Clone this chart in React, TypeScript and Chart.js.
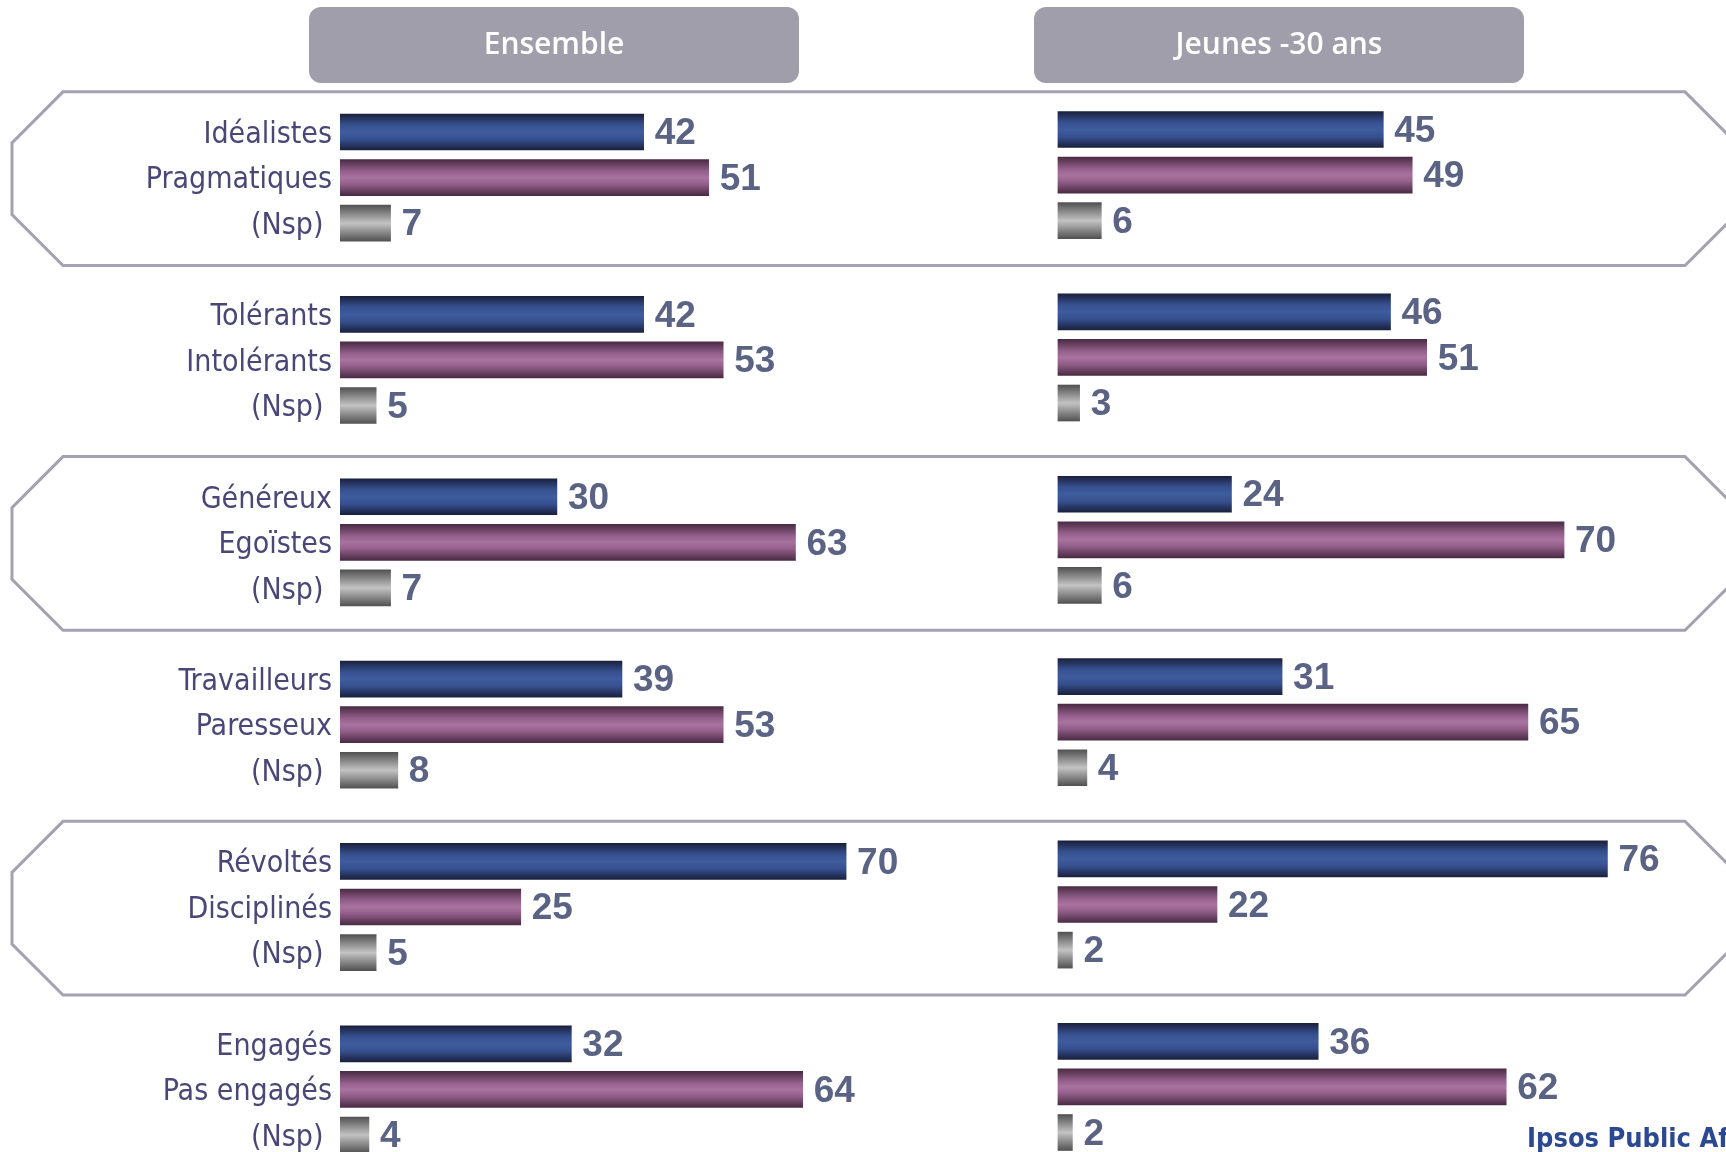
import React, { useEffect, useRef } from "react";
import { Chart, registerables } from "chart.js";
Chart.register(...registerables);

// ---------- data ----------
const panels = ["Ensemble", "Jeunes -30 ans"];
const categories = [
  "Idéalistes", "Pragmatiques", "(Nsp) ",
  "Tolérants", "Intolérants", "(Nsp) ",
  "Généreux", "Egoïstes", "(Nsp) ",
  "Travailleurs", "Paresseux", "(Nsp) ",
  "Révoltés", "Disciplinés", "(Nsp) ",
  "Engagés", "Pas engagés", "(Nsp) ",
];
const ensemble = [42, 51, 7, 42, 53, 5, 30, 63, 7, 39, 53, 8, 70, 25, 5, 32, 64, 4];
const jeunes = [45, 49, 6, 46, 51, 3, 24, 70, 6, 31, 65, 4, 76, 22, 2, 36, 62, 2];
const framedGroups = [0, 2, 4];
const source = "Ipsos Public Affairs";

// ---------- layout helpers ----------
const W = 1726;
const H = 1152;
const FAMILY = "'DejaVu Sans Condensed', 'DejaVu Sans', sans-serif";
const HEAD_FAMILY = "'Open Sans', 'DejaVu Sans', sans-serif";
const NUM_FAMILY = "'Liberation Sans', Arial, sans-serif";
const yPos = categories.map((_, i) => Math.floor(i / 3) * 4 + (i % 3));
const tickLabel = new Map(yPos.map((p, i) => [p, categories[i]]));

const Y_MIN = -2.895;
const Y_MAX = 22.373;
const Y_SHIFT_R = 0.055;

const gradStops = [
  [[0, "#1a213e"], [0.3, "#36508f"], [0.5, "#3f5c9d"], [0.7, "#36508f"], [1, "#1a213e"]],
  [[0, "#4a2b44"], [0.32, "#935f8a"], [0.5, "#a9739f"], [0.68, "#935f8a"], [1, "#4a2b44"]],
  [[0, "#525252"], [0.5, "#c3c3c3"], [1, "#525252"]],
];
const solid = ["#3f5c9d", "#a9739f", "#c3c3c3"];

function gradient(axisId: string) {
  return (c: any) => {
    const idx = typeof c.dataIndex === "number" ? c.dataIndex % 3 : 0;
    const chart = c.chart;
    const scale = chart.scales && chart.scales[axisId];
    if (!scale || !c.raw || typeof c.raw.y !== "number") return solid[idx];
    const py = scale.getPixelForValue(c.raw.y);
    if (!isFinite(py)) return solid[idx];
    const g = chart.ctx.createLinearGradient(0, py - 18, 0, py + 18);
    for (const [o, col] of gradStops[idx]) g.addColorStop(o as number, col as string);
    return g;
  };
}

const decor = {
  id: "decor",
  beforeDraw(chart: any) {
    const ctx = chart.ctx;
    const y = chart.scales.yL;
    ctx.save();
    ctx.fillStyle = "#ffffff";
    ctx.fillRect(0, 0, chart.width, chart.height);
    ctx.strokeStyle = "#a4a2b2";
    ctx.lineWidth = 3;
    ctx.lineJoin = "miter";
    for (const g of framedGroups) {
      const top = y.getPixelForValue(g * 4 - 0.88);
      const bot = y.getPixelForValue(g * 4 + 2.93);
      const L = 12, R = 1736, c = 51;
      ctx.beginPath();
      ctx.moveTo(L + c, top);
      ctx.lineTo(R - c, top);
      ctx.lineTo(R, top + c);
      ctx.lineTo(R, bot - c);
      ctx.lineTo(R - c, bot);
      ctx.lineTo(L + c, bot);
      ctx.lineTo(L, bot - c);
      ctx.lineTo(L, top + c);
      ctx.closePath();
      ctx.stroke();
    }
    const boxes = [309, 1034];
    ctx.fillStyle = "#a19eab";
    boxes.forEach((bx) => {
      ctx.beginPath();
      (ctx as any).roundRect(bx, 7, 490, 76, 12);
      ctx.fill();
    });
    ctx.fillStyle = "#ffffff";
    ctx.font = `600 30px ${HEAD_FAMILY}`;
    ctx.textAlign = "center";
    ctx.textBaseline = "middle";
    boxes.forEach((bx, i) => ctx.fillText(panels[i], bx + 245, 45));
    ctx.restore();
  },
  afterDatasetsDraw(chart: any) {
    const ctx = chart.ctx;
    ctx.save();
    ctx.font = `bold 37px ${NUM_FAMILY}`;
    ctx.fillStyle = "#5a6384";
    ctx.textAlign = "left";
    ctx.textBaseline = "middle";
    chart.data.datasets.forEach((ds: any, di: number) => {
      const meta = chart.getDatasetMeta(di);
      meta.data.forEach((el: any, j: number) => {
        ctx.fillText(String(ds.data[j].x), el.x + 11, el.y + 2);
      });
    });
    ctx.font = `bold 27px ${FAMILY}`;
    ctx.fillStyle = "#2b4893";
    ctx.textBaseline = "alphabetic";
    ctx.fillText(source, 1527, 1147);
    ctx.restore();
  },
};

export default function App() {
  const ref = useRef<HTMLCanvasElement>(null);
  useEffect(() => {
    const chart = new Chart(ref.current as HTMLCanvasElement, {
      type: "bar",
      data: {
        datasets: [
          {
            label: panels[0],
            data: ensemble.map((v, i) => ({ x: v, y: yPos[i] })),
            xAxisID: "xL",
            yAxisID: "yL",
            grouped: false,
            barThickness: 36,
            borderWidth: 0,
            backgroundColor: gradient("yL"),
          } as any,
          {
            label: panels[1],
            data: jeunes.map((v, i) => ({ x: v, y: yPos[i] })),
            xAxisID: "xR",
            yAxisID: "yR",
            grouped: false,
            barThickness: 36,
            borderWidth: 0,
            backgroundColor: gradient("yR"),
          } as any,
        ],
      },
      options: {
        indexAxis: "y",
        responsive: false,
        animation: false,
        devicePixelRatio: 1,
        layout: { padding: 0 },
        plugins: { legend: { display: false }, tooltip: { enabled: false } },
        scales: {
          yL: {
            type: "linear",
            position: "left",
            reverse: true,
            offset: false,
            bounds: "data",
            grace: 0,
            min: Y_MIN,
            max: Y_MAX,
            grid: { display: false, drawTicks: false },
            border: { display: false },
            ticks: {
              autoSkip: false,
              padding: 8,
              labelOffset: 3,
              color: "#4a4778",
              font: { family: FAMILY, size: 30 },
              callback: (v: any) => tickLabel.get(Number(v)) ?? "",
            },
            afterBuildTicks: (s: any) => {
              s.ticks = yPos.map((v) => ({ value: v }));
            },
            afterFit: (s: any) => {
              s.width = 340;
              s.paddingTop = 0;
              s.paddingBottom = 0;
            },
          },
          yR: {
            type: "linear",
            display: false,
            reverse: true,
            offset: false,
            bounds: "data",
            grace: 0,
            min: Y_MIN + Y_SHIFT_R,
            max: Y_MAX + Y_SHIFT_R,
          },
          xL: { type: "linear", display: false, min: 0, max: 191.7 },
          xR: { type: "linear", display: false, min: -99.3, max: 92.4 },
        } as any,
      },
      plugins: [decor],
    });
    return () => chart.destroy();
  }, []);
  return (
    <div style={{ position: "absolute", left: 0, top: 0, width: W, height: H, background: "#fff", overflow: "hidden" }}>
      <canvas ref={ref} width={W} height={H} style={{ display: "block", width: W, height: H }} />
    </div>
  );
}
